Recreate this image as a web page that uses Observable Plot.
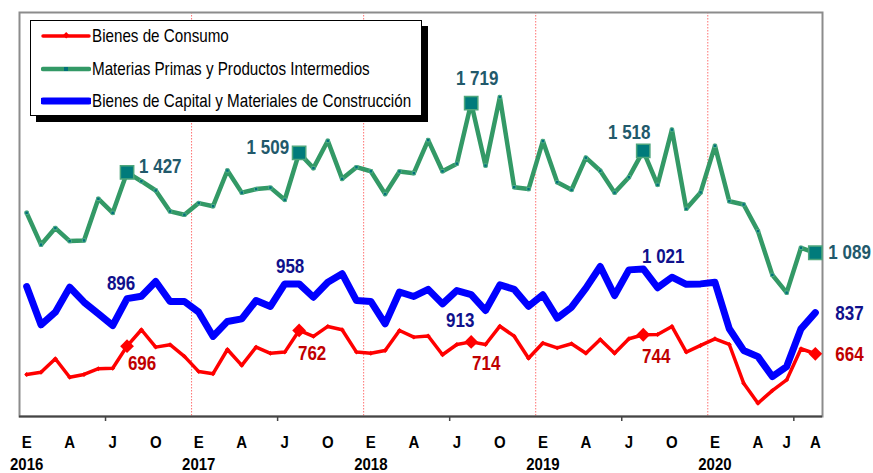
<!DOCTYPE html>
<html>
<head>
<meta charset="utf-8">
<script src="https://cdn.jsdelivr.net/npm/d3@7"></script>
<script src="https://cdn.jsdelivr.net/npm/@observablehq/plot@0.6"></script>
<style>
  body { margin: 0; background: #fff; }
  #wrap { position: relative; width: 873px; height: 473px; font-family: "Liberation Sans", Arial, sans-serif; }
  #legend { position: absolute; left: 30px; top: 20px; width: 390px; height: 94px; border: 1px solid #000; background: #fff; box-shadow: 6px 6px 0 #000; }
  .row { position: absolute; left: 0; height: 20px; width: 390px; }
  .row svg { position: absolute; left: 10px; top: 0; }
  .row span { position: absolute; left: 61px; top: 0; line-height: 20px; font-size: 15.2px; color: #000; white-space: nowrap; transform: scaleY(1.17); transform-origin: left center; }
</style>
</head>
<body>
<div id="wrap">
  <div id="chart"></div>
  <div id="legend"></div>
</div>
<script>
// ---- data (monthly, Jan 2016 .. Aug 2020) ----
const seriesNames = ["Bienes de Consumo", "Materias Primas y Productos Intermedios", "Bienes de Capital y Materiales de Construcción"];
const consumo = [577, 586, 643, 565, 577, 601, 603, 696, 765, 692, 702, 653,
                 589, 580, 682, 615, 692, 666, 671, 762, 737, 779, 765, 671,
                 666, 678, 762, 734, 739, 660, 703, 714, 703, 780, 738, 645,
                 709, 689, 706, 666, 724, 666, 727, 744, 745, 779, 671, 699,
                 727, 703, 540, 456, 509, 554, 685, 664];
const materias = [1257, 1123, 1193, 1138, 1141, 1316, 1257, 1427, 1390, 1351, 1263, 1249,
                  1298, 1285, 1435, 1342, 1357, 1363, 1312, 1509, 1445, 1560, 1400, 1449,
                  1432, 1336, 1431, 1424, 1563, 1432, 1464, 1719, 1456, 1744, 1365, 1357,
                  1559, 1386, 1354, 1489, 1434, 1342, 1407, 1518, 1375, 1607, 1274, 1343,
                  1539, 1306, 1292, 1180, 996, 921, 1110, 1089];
const capital = [947, 786, 839, 944, 881, 832, 783, 896, 906, 968, 884, 884,
                 839, 737, 800, 811, 888, 863, 958, 958, 902, 965, 1001, 888,
                 884, 790, 924, 905, 935, 874, 930, 913, 846, 954, 935, 864,
                 912, 814, 860, 940, 1031, 909, 1017, 1021, 942, 986, 956, 958,
                 965, 769, 678, 652, 568, 610, 769, 837];
const highlighted = [7, 19, 31, 43, 55];
const monthTickPos = [0, 3, 6, 9, 12, 15, 18, 21, 24, 27, 30, 33, 36, 39, 42, 45, 48, 51, 53, 55];
const monthTickLabels = ["E","A","J","O","E","A","J","O","E","A","J","O","E","A","J","O","E","A","J","A"];
const yearTickPos = [0, 12, 24, 36, 48];
const yearLabels = ["2016", "2017", "2018", "2019", "2020"];
const midYearTicks = [5.5, 17.5, 29.5, 41.5, 53.5];
const yearBreaks = [11.5, 23.5, 35.5, 47.5];

// ---- styles ----
const C_RED = "#ff0000", C_GREEN = "#339966", C_BLUE = "#0000ff";
const L_RED = "#c00000", L_GREEN = "#22596b", L_BLUE = "#10108c";
const fmt = v => v >= 1000 ? `${Math.floor(v / 1000)} ${String(v % 1000).padStart(3, "0")}` : String(v);
const idx = (d, i) => i;
const val = d => d;
const Y_MIN = 400, Y_MAX = 2100;

const labelSpecs = [
  {arr: materias, i: 7,  dx: 12,  dy: -6,  anchor: "start",  color: L_GREEN},
  {arr: materias, i: 19, dx: -10, dy: -5,  anchor: "end",    color: L_GREEN},
  {arr: materias, i: 31, dx: 6,   dy: -24, anchor: "middle", color: L_GREEN},
  {arr: materias, i: 43, dx: -14, dy: -18, anchor: "middle", color: L_GREEN},
  {arr: materias, i: 55, dx: 13,  dy: 0,   anchor: "start",  color: L_GREEN},
  {arr: capital,  i: 7,  dx: -6,  dy: -15, anchor: "middle", color: L_BLUE},
  {arr: capital,  i: 19, dx: -9,  dy: -17, anchor: "middle", color: L_BLUE},
  {arr: capital,  i: 31, dx: -11, dy: 26,  anchor: "middle", color: L_BLUE},
  {arr: capital,  i: 43, dx: 20,  dy: -12, anchor: "middle", color: L_BLUE},
  {arr: capital,  i: 55, dx: 20,  dy: 1,   anchor: "start",  color: L_BLUE},
  {arr: consumo,  i: 7,  dx: 15,  dy: 18,  anchor: "middle", color: L_RED},
  {arr: consumo,  i: 19, dx: 13,  dy: 23,  anchor: "middle", color: L_RED},
  {arr: consumo,  i: 31, dx: 15,  dy: 22,  anchor: "middle", color: L_RED},
  {arr: consumo,  i: 43, dx: 13,  dy: 22,  anchor: "middle", color: L_RED},
  {arr: consumo,  i: 55, dx: 20,  dy: 1,   anchor: "start",  color: L_RED}
];

const chart = Plot.plot({
  width: 873,
  height: 473,
  marginLeft: 19,
  marginRight: 51,
  marginTop: 12,
  marginBottom: 57,
  style: {fontFamily: "'Liberation Sans', Arial, sans-serif", background: "transparent", overflow: "visible"},
  x: {domain: [-0.5, 55.5], axis: null},
  y: {domain: [Y_MIN, Y_MAX], axis: null},
  marks: [
    Plot.ruleX(yearBreaks, {x: val, stroke: "#ff7070", strokeWidth: 1, strokeDasharray: "1.5,1.5"}),
    Plot.frame({stroke: "#8c8c8c", strokeWidth: 2}),
    Plot.ruleY([Y_MIN], {stroke: "#444", strokeWidth: 2}),
    Plot.axisX({ticks: midYearTicks, tickSize: 5, tickFormat: () => "", stroke: "#444", strokeWidth: 1.5}),
    Plot.text(monthTickPos, {x: val, text: (d, i) => monthTickLabels[i], frameAnchor: "bottom", lineAnchor: "middle", dy: 26, fontSize: 15, fontWeight: "bold", fill: "#000"}),
    Plot.text(yearTickPos, {x: val, text: (d, i) => yearLabels[i], frameAnchor: "bottom", lineAnchor: "middle", dy: 48, fontSize: 15, fontWeight: "bold", fill: "#000"}),
    // Materias primas (green)
    Plot.line(materias, {x: idx, y: val, stroke: C_GREEN, strokeWidth: 4.5, strokeLinejoin: "round"}),
    Plot.dot(materias, {x: idx, y: val, symbol: "square", r: 1.9, fill: "#00707a", stroke: "#5cb58c", strokeWidth: 0.8}),
    Plot.dot(highlighted, {x: val, y: i => materias[i], symbol: "square", r: 7.5, fill: "#007b7b", stroke: "#4ea67c", strokeWidth: 1.5}),
    // Bienes de capital (blue)
    Plot.line(capital, {x: idx, y: val, stroke: C_BLUE, strokeWidth: 7, strokeLinejoin: "round", strokeLinecap: "round"}),
    // Bienes de consumo (red)
    Plot.line(consumo, {x: idx, y: val, stroke: C_RED, strokeWidth: 3.5, strokeLinejoin: "round"}),
    Plot.dot(consumo, {x: idx, y: val, symbol: "diamond2", r: 2.2, fill: C_RED}),
    Plot.dot(highlighted, {x: val, y: i => consumo[i], symbol: "diamond2", r: 6.2, fill: C_RED}),
    // value labels
    ...labelSpecs.map(s => Plot.text([s.i], {
      x: val, y: i => s.arr[i], text: i => fmt(s.arr[i]),
      dx: s.dx, dy: s.dy, textAnchor: s.anchor, fill: s.color,
      fontSize: 17, fontWeight: "bold"
    }))
  ]
});
// the original chart's lettering is slightly taller than wide: stretch each text vertically about its anchor
chart.querySelectorAll("text").forEach(t => {
  const tr = t.getAttribute("transform");
  if (tr) {
    t.setAttribute("transform", tr + " scale(1,1.15)");
  } else {
    const x = +(t.getAttribute("x") || 0), y = +(t.getAttribute("y") || 0);
    t.setAttribute("transform", `translate(${x},${y}) scale(1,1.15) translate(${-x},${-y})`);
  }
});
document.getElementById("chart").appendChild(chart);

// ---- legend ----
const legend = document.getElementById("legend");
const legendRows = [
  {name: seriesNames[0], top: 5,  color: C_RED,   w: 3.5, marker: "diamond"},
  {name: seriesNames[1], top: 38, color: C_GREEN, w: 4.5, marker: "square"},
  {name: seriesNames[2], top: 70, color: C_BLUE,  w: 7,   marker: null}
];
legendRows.forEach(r => {
  const row = document.createElement("div");
  row.className = "row";
  row.style.top = r.top + "px";
  let m = "";
  if (r.marker === "diamond") m = `<rect x="23" y="7" width="4.5" height="4.5" fill="${r.color}" transform="rotate(45 25.2 9.2)"/>`;
  if (r.marker === "square") m = `<rect x="23" y="8" width="4" height="4" fill="#00707a"/>`;
  row.innerHTML = `<svg width="50" height="20"><line x1="2" x2="48" y1="10" y2="10" stroke="${r.color}" stroke-width="${r.w}" stroke-linecap="round"/>${m}</svg><span>${r.name}</span>`;
  legend.appendChild(row);
});
</script>
</body>
</html>
